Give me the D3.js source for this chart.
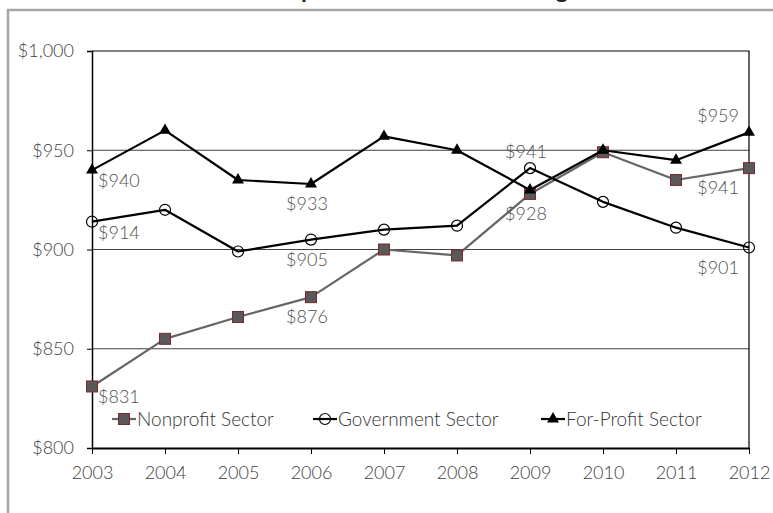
<!DOCTYPE html>
<html>
<head>
<meta charset="utf-8">
<script src="https://cdn.jsdelivr.net/npm/d3@7"></script>
<style>
  body { margin: 0; background: #fff; }
  svg { display: block; font-family: Lato, "Open Sans", sans-serif; }
</style>
</head>
<body>
<svg id="chart" width="773" height="513"></svg>
<script>
// data
const years = ["2003", "2004", "2005", "2006", "2007", "2008", "2009", "2010", "2011", "2012"];
const nonprofit = [831, 855, 866, 876, 900, 897, 928, 949, 935, 941];
const government = [914, 920, 899, 905, 910, 912, 941, 924, 911, 901];
const forProfit = [940, 960, 935, 933, 957, 950, 930, 950, 945, 959];
const yTicks = [800, 850, 900, 950, 1000];
const seriesNames = ["Nonprofit Sector", "Government Sector", "For-Profit Sector"];

// which points get a value label, and where it sits
const labelIdx = [0, 3, 6, 9];
const labelPos = {
	"Nonprofit Sector": ["below", "below", "below", "below"],
	"Government Sector": ["below", "below", "above", "below"],
	"For-Profit Sector": ["below", "below", null, "above"],
};

const W = 773, H = 513;
const plot = { left: 92, right: 749, top: 51, bottom: 448 };

const svg = d3.select("#chart");

// outer frame (only top and left edges are in view)
svg.append("path")
	.attr("d", `M8,${H} V10 H${W}`)
	.attr("fill", "none")
	.attr("stroke", "#a6a6a6")
	.attr("stroke-width", 2.5);

// title, mostly above the visible area (only descenders show, as in the source)
svg.append("text")
	.attr("x", 415).attr("y", -2)
	.attr("text-anchor", "middle")
	.attr("font-size", 24)
	.attr("font-weight", "bold")
	.attr("fill", "#262626")
	.text("Comparison of Sector Earnings");

const x = d3.scalePoint().domain(years).range([plot.left, plot.right]);
const y = d3.scaleLinear().domain([800, 1000]).range([plot.bottom, plot.top]);

// gridlines
svg.append("g")
	.selectAll("line")
	.data(yTicks.slice(1, -1))
	.join("line")
	.attr("x1", plot.left).attr("x2", plot.right)
	.attr("y1", d => y(d)).attr("y2", d => y(d))
	.attr("stroke", "#404040")
	.attr("stroke-width", 1);

// top and right frame of plot area
svg.append("path")
	.attr("d", `M${plot.left},${y(1000)} H${plot.right} V${plot.bottom}`)
	.attr("fill", "none")
	.attr("stroke", "#000")
	.attr("stroke-width", 1.2);

// y axis
const yAxis = svg.append("g")
	.attr("transform", `translate(${plot.left},0)`)
	.call(d3.axisLeft(y).tickValues(yTicks).tickSize(5).tickPadding(13)
		.tickFormat(d => "$" + d3.format(",")(d)));
yAxis.select(".domain").attr("stroke", "#000").attr("stroke-width", 1.5);
yAxis.selectAll(".tick line").attr("stroke", "#000");
yAxis.selectAll("text")
	.attr("font-family", "Lato, sans-serif")
	.attr("font-size", 18)
	.attr("font-weight", 300)
	.attr("fill", "#404040");

// x axis
const xAxis = svg.append("g")
	.attr("transform", `translate(0,${plot.bottom})`)
	.call(d3.axisBottom(x).tickSize(6).tickSizeOuter(0).tickPadding(12));
xAxis.select(".domain").attr("stroke", "#000").attr("stroke-width", 2);
xAxis.selectAll(".tick line").attr("stroke", "#000");
xAxis.selectAll("text")
	.attr("font-family", "Lato, sans-serif")
	.attr("font-size", 18)
	.attr("font-weight", 300)
	.attr("fill", "#404040");

// series
const series = [
	{ name: seriesNames[0], values: nonprofit, color: "#666666", marker: "square" },
	{ name: seriesNames[1], values: government, color: "#000000", marker: "circle" },
	{ name: seriesNames[2], values: forProfit, color: "#000000", marker: "triangle" },
];

const line = d3.line()
	.x((d, i) => x(years[i]))
	.y(d => y(d));

function drawMarker(g, type) {
	if (type === "square") {
		g.append("rect")
			.attr("x", -5.5).attr("y", -5.5)
			.attr("width", 11).attr("height", 11)
			.attr("fill", "#595959")
			.attr("stroke", "#7a2a2a")
			.attr("stroke-width", 1);
	} else if (type === "circle") {
		g.append("circle")
			.attr("r", 5.5)
			.attr("fill", "none")
			.attr("stroke", "#000")
			.attr("stroke-width", 1.2);
	} else {
		g.append("path")
			.attr("d", d3.symbol(d3.symbolTriangle, 62)())
			.attr("fill", "#000");
	}
}

series.forEach(s => {
	const g = svg.append("g");
	g.append("path")
		.attr("d", line(s.values))
		.attr("fill", "none")
		.attr("stroke", s.color)
		.attr("stroke-width", 2.2)
		.attr("stroke-linejoin", "round");
	g.selectAll("g.pt")
		.data(s.values)
		.join("g")
		.attr("class", "pt")
		.attr("transform", (d, i) => `translate(${x(years[i])},${y(d)})`)
		.each(function () { drawMarker(d3.select(this), s.marker); });
});

// value labels
series.forEach(s => {
	labelIdx.forEach((idx, k) => {
		const pos = labelPos[s.name][k];
		if (!pos) return;
		const px = x(years[idx]), py = y(s.values[idx]);
		const t = svg.append("text")
			.attr("font-size", 18)
			.attr("font-weight", 300)
			.attr("fill", "#505050")
			.attr("text-anchor", "start")
			.text("$" + s.values[idx]);
		const w = t.node().getComputedTextLength();
		let lx = px - w / 2 - 4;
		let dy = pos === "above" ? -10 : 26;
		if (lx < plot.left + 5) { lx = plot.left + 6; if (pos === "below") dy = 17; }
		if (lx + w > plot.right - 8) lx = plot.right - 10 - w;
		t.attr("x", lx).attr("y", py + dy);
	});
});

// legend
const legendX = [112, 313, 541];
const legend = svg.append("g").attr("transform", "translate(0,419)");
series.forEach((s, i) => {
	const g = legend.append("g").attr("transform", `translate(${legendX[i]},0)`);
	g.append("line")
		.attr("x1", 0).attr("x2", 24)
		.attr("stroke", s.color)
		.attr("stroke-width", 2.2);
	const m = g.append("g").attr("transform", "translate(12,0)");
	drawMarker(m, s.marker);
	g.append("text")
		.attr("x", 25).attr("y", 0)
		.attr("dy", "0.35em")
		.attr("font-size", 19)
		.attr("font-weight", 300)
		.attr("fill", "#333")
		.text(s.name);
});
</script>
</body>
</html>
